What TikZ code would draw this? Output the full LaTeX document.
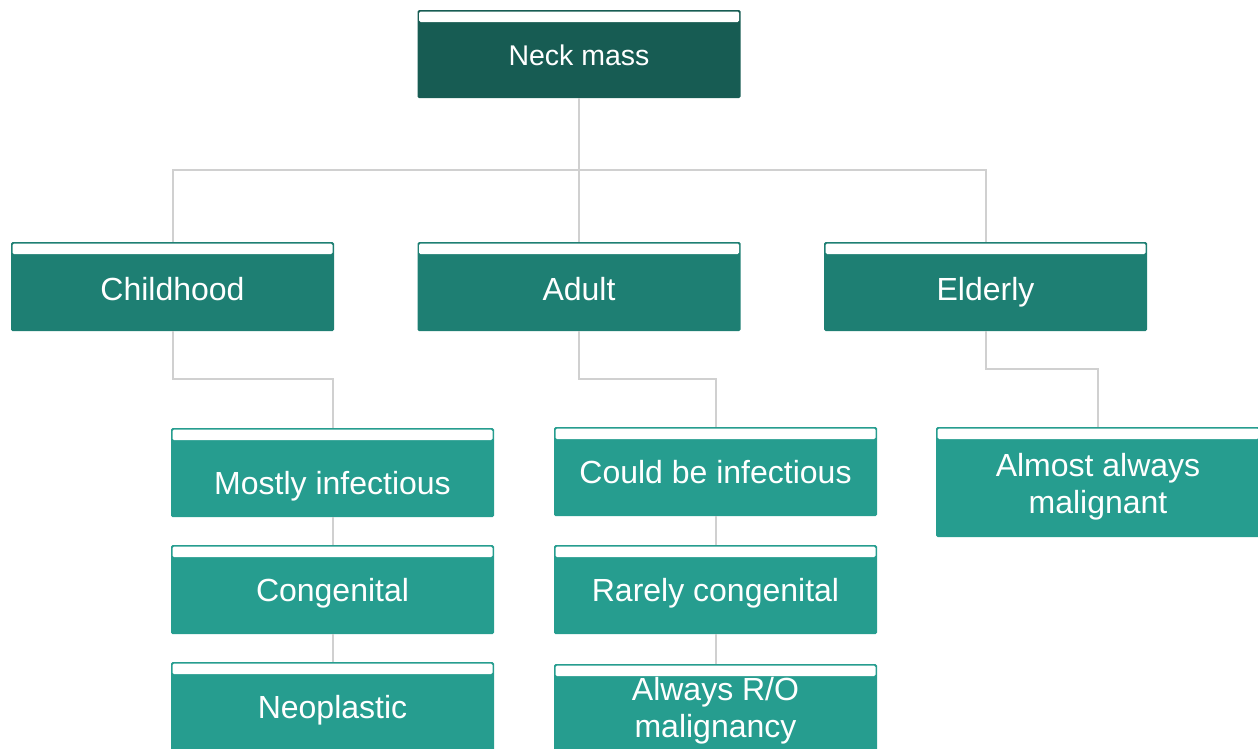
\documentclass[tikz,border=0pt]{standalone}
\usepackage{fontspec}
\setmainfont{Liberation Sans}
\definecolor{cdark}{HTML}{175C53}
\definecolor{cmid}{HTML}{1E7F73}
\definecolor{clight}{HTML}{269D8F}
\definecolor{cline}{HTML}{D0D0D0}
\begin{document}
\begin{tikzpicture}[x=1pt,y=-1pt,
  box/.style={rectangle, inner sep=0pt, minimum width=323pt, minimum height=89pt,
    rounded corners=1.5pt,
    path picture={\fill[white] ([xshift=1.5pt,yshift=-1.5pt]path picture bounding box.north west) rectangle ([xshift=-1.5pt,yshift=-12pt]path picture bounding box.north east);}},
  lvA/.style={box, fill=cdark},
  lvB/.style={box, fill=cmid},
  lvC/.style={box, fill=clight},
  lbl/.style={text=white, inner sep=0pt, font=\fontsize{32}{37}\selectfont},
  conn/.style={draw=cline, line width=2pt}]
\useasboundingbox (0,0) rectangle (1258,748);
\begin{scope}
\clip (0,0) rectangle (1258,748);
% boxes
\node[lvA] (nm) at (579,54) [minimum height=88pt] {};
\node[lvB] (child) at (172.5,286.5) {};
\node[lvB] (adult) at (579,286.5) {};
\node[lvB] (eld) at (985.5,286.5) {};
\node[lvC] (mi) at (332.5,472.5) {};
\node[lvC] (cong) at (332.5,589.5) {};
\node[lvC] (neo) at (332.5,706.5) {};
\node[lvC] (cbi) at (715.5,471.5) {};
\node[lvC] (rc) at (715.5,589.5) {};
\node[lvC] (ar) at (715.5,708.5) {};
\node[lvC, minimum width=324pt, minimum height=110pt] (aam) at (1098,482) {};
% connectors
\draw[conn] (nm.south) -- (adult.north);
\draw[conn] (child.north) -- ++(0,-72) -| (eld.north);
\draw[conn] (child.south) -- ++(0,48) -| (mi.north);
\draw[conn] (adult.south) -- ++(0,48) -| (cbi.north);
\draw[conn] (eld.south) -- ++(0,38) -| (aam.north);
\draw[conn] (mi.south) -- (cong.north);
\draw[conn] (cong.south) -- (neo.north);
\draw[conn] (cbi.south) -- (rc.north);
\draw[conn] (rc.south) -- (ar.north);
% labels
\node[lbl, anchor=base, font=\fontsize{28.5}{34}\selectfont] (tnm) at (579,65) {Neck mass};
\node[lbl, anchor=base] (tchild) at (172.5,300) {Childhood};
\node[lbl, anchor=base] (tadult) at (579,300) {Adult};
\node[lbl, anchor=base] (teld) at (985.5,300) {Elderly};
\node[lbl, anchor=base] (tmi) at (332.5,494) {Mostly infectious};
\node[lbl, anchor=base] (tcong) at (332.5,601) {Congenital};
\node[lbl, anchor=base] (tneo) at (332.5,718) {Neoplastic};
\node[lbl, anchor=base] (tcbi) at (715.5,483) {Could be infectious};
\node[lbl, anchor=base] (trc) at (715.5,601) {Rarely congenital};
\node[lbl, align=center] (tar) at (715.5,711) {Always R/O\\malignancy};
\node[lbl, align=center] (taam) at (1098,487) {Almost always\\malignant};
\end{scope}
\end{tikzpicture}
\end{document}
